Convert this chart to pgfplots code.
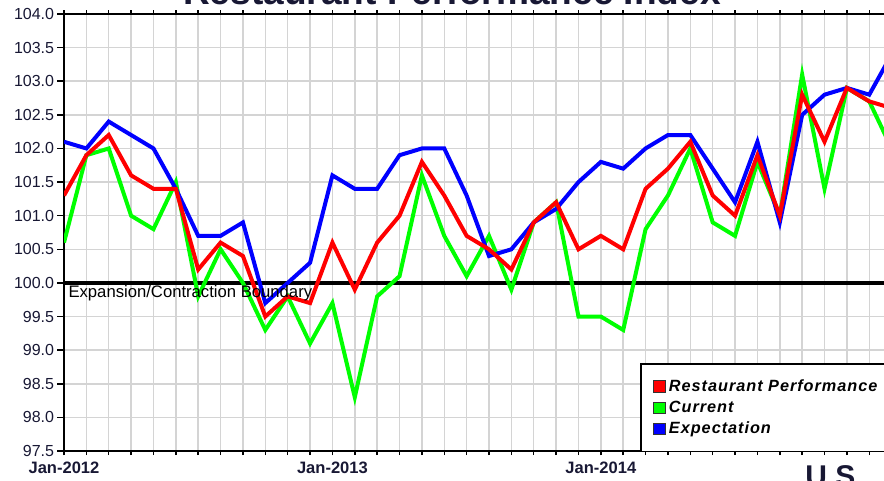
\documentclass[border=0pt]{standalone}
\usepackage{fontspec}
\setmainfont{Liberation Sans}
\usepackage{pgfplots}
\usepackage{pgfplotstable}
\pgfplotsset{compat=1.18}
\definecolor{gridgray}{RGB}{212,212,212}
\definecolor{navy}{RGB}{24,24,52}
\definecolor{cred}{RGB}{255,0,0}
\definecolor{cgreen}{RGB}{0,255,0}
\definecolor{cblue}{RGB}{0,0,255}

\pgfplotstableread{
idx rpi cur exp
0 101.3 100.6 102.1
1 101.9 101.9 102.0
2 102.2 102.0 102.4
3 101.6 101.0 102.2
4 101.4 100.8 102.0
5 101.4 101.5 101.4
6 100.2 99.8 100.7
7 100.6 100.5 100.7
8 100.4 100.0 100.9
9 99.5 99.3 99.7
10 99.8 99.8 100.0
11 99.7 99.1 100.3
12 100.6 99.7 101.6
13 99.9 98.3 101.4
14 100.6 99.8 101.4
15 101.0 100.1 101.9
16 101.8 101.6 102.0
17 101.3 100.7 102.0
18 100.7 100.1 101.3
19 100.5 100.7 100.4
20 100.2 99.9 100.5
21 100.9 100.9 100.9
22 101.2 101.2 101.1
23 100.5 99.5 101.5
24 100.7 99.5 101.8
25 100.5 99.3 101.7
26 101.4 100.8 102.0
27 101.7 101.3 102.2
28 102.1 102.0 102.2
29 101.3 100.9 101.7
30 101.0 100.7 101.2
31 101.9 101.8 102.1
32 101.0 101.0 100.9
33 102.8 103.1 102.5
34 102.1 101.4 102.8
35 102.9 102.9 102.9
36 102.7 102.7 102.8
37 102.6 102.0 103.4
}\datatable

\begin{document}
\begin{tikzpicture}
\begin{axis}[
  at={(48pt,-338.25pt)}, anchor=south west,
  scale only axis, width=637.5pt, height=327.75pt,
  xmin=0, xmax=38, ymin=97.5, ymax=104,
  axis line style={black, line width=1.5pt},
  xtick={0,...,38}, xticklabels={},
  extra x ticks={0,12,24},
  extra x tick labels={Jan-2012,Jan-2013,Jan-2014},
  extra x tick style={grid=none, major tick length=4.5pt},
  ytick={97.5,98,...,104},
  grid=major, major grid style={gridgray, line width=1.1pt},
  tick align=outside,
  tick style={black, line width=1.1pt},
  xtick style={/pgfplots/major tick length=3pt},
  ytick style={/pgfplots/major tick length=5pt},
  /pgf/number format/assume math mode=true,
  /pgf/number format/fixed, /pgf/number format/fixed zerofill, /pgf/number format/precision=1,
  yticklabel style={font=\fontsize{12}{14}\selectfont, text=navy, inner sep=0pt, anchor=east, xshift=-3pt},
  xticklabel style={font=\fontsize{12.4}{14}\selectfont\bfseries, text=navy, inner sep=0pt, anchor=north, yshift=-3.5pt},
  legend style={at={(0.678,0.2007)}, anchor=north west, draw=black, line width=1pt,
    fill=white, inner xsep=9pt, inner ysep=10.8pt, row sep=3.75pt,
    font=\fontsize{12.2}{14}\selectfont\bfseries\itshape\addfontfeature{LetterSpace=6},
    nodes={inner sep=1pt}},
  legend cell align=left,
  legend image code/.code={\draw[#1, draw=black!80, line width=0.6pt, fill] (0pt,-4.35pt) rectangle (8.7pt,4.35pt); \path[draw=none, fill=none] (0pt,-1pt) rectangle (10.7pt,1pt);},
]
\addlegendimage{cred}\addlegendentry{Restaurant Performance}
\addlegendimage{cgreen}\addlegendentry{Current}
\addlegendimage{cblue}\addlegendentry{Expectation}
\addplot[black, line width=2.6pt, forget plot] coordinates {(0,100) (38,100)};
\addplot[cgreen, line width=3pt, forget plot] table[x=idx, y=cur] {\datatable};
\addplot[cblue, line width=3pt, forget plot] table[x=idx, y=exp] {\datatable};
\addplot[cred, line width=3pt, forget plot] table[x=idx, y=rpi] {\datatable};
\node[anchor=base west, font=\fontsize{12.5}{14}\selectfont, text=black, inner sep=0pt] at (axis cs:0.19,99.78) {Expansion/Contraction Boundary};
\end{axis}
\node[anchor=base, font=\fontsize{27.8}{30}\selectfont\bfseries, text=navy, inner sep=0pt] at (339pt,-3.5pt) {Restaurant Performance Index};
\node[anchor=base west, font=\fontsize{22.5}{26}\selectfont\bfseries, text=navy, inner sep=0pt] at (603.75pt,-364.9pt) {U.S.};
\pgfresetboundingbox
\useasboundingbox (0pt,0pt) rectangle (663pt,-360.75pt);
\end{tikzpicture}
\end{document}
